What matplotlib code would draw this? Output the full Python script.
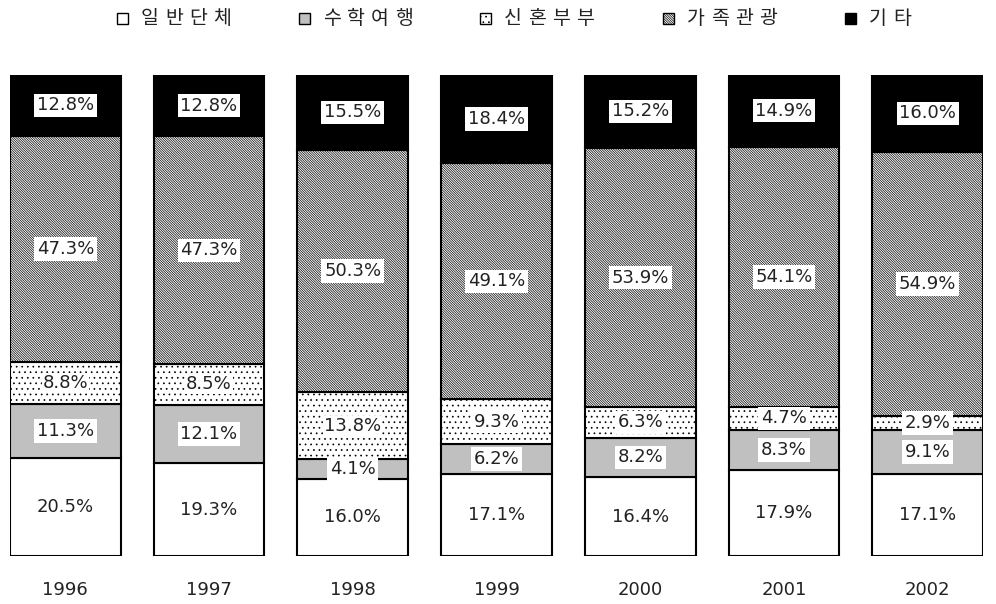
import matplotlib.pyplot as plt
from matplotlib.patches import Rectangle

plt.rcParams['font.family'] = ['DejaVu Sans', 'Noto Sans CJK KR']
plt.rcParams['hatch.linewidth'] = 0.5

years = ['1996', '1997', '1998', '1999', '2000', '2001', '2002']
categories = ['일반단체', '수학여행', '신혼부부', '가족관광', '기타']
general = [20.5, 19.3, 16.0, 17.1, 16.4, 17.9, 17.1]
school = [11.3, 12.1, 4.1, 6.2, 8.2, 8.3, 9.1]
honeymoon = [8.8, 8.5, 13.8, 9.3, 6.3, 4.7, 2.9]
family = [47.3, 47.3, 50.3, 49.1, 53.9, 54.1, 54.9]
other = [12.8, 12.8, 15.5, 18.4, 15.2, 14.9, 16.0]

series = [general, school, honeymoon, family, other]
colors = ['white', '#c0c0c0', 'white', 'white', 'black']
hatches = [None, None, '...', '\\' * 14, None]

fig = plt.figure(figsize=(9.96, 6.04), dpi=100)
ax = fig.add_axes([0.010, 0.0795, 0.977, 0.7965])

x = list(range(len(years)))
totals = [sum(s[i] for s in series) for i in x]
bottom = [0.0] * len(years)
for k, vals in enumerate(series):
    h = [v / t * 100 for v, t in zip(vals, totals)]
    ax.bar(x, h, 0.77, bottom=bottom, color=colors[k], hatch=hatches[k],
           edgecolor='black', linewidth=1.5)
    for i, v in enumerate(vals):
        y = bottom[i] + h[i] / 2
        box = dict(facecolor='white', edgecolor='none', pad=2)
        if k == 0:
            box = None
        elif k == 2 and i in (0, 1, 2):
            box = dict(facecolor='white', edgecolor='none', pad=0.5)
        ax.text(i, y, f'{v:.1f}%', ha='center', va='center', fontsize=13,
                color='#222222', bbox=box)
    bottom = [b + hh for b, hh in zip(bottom, h)]

ax.set_xlim(-0.385, 6.385)
ax.set_ylim(0, 100)
ax.axis('off')

for i, yr in enumerate(years):
    ax.text(i, -7.0, yr, ha='center', va='center', fontsize=13, color='#222222')

# legend across the top
leg_x = [117, 299, 480, 663, 845]
for k, name in enumerate(categories):
    fig.add_artist(Rectangle((leg_x[k] / 996, 0.960), 11 / 996, 11 / 604,
                             transform=fig.transFigure, facecolor=colors[k],
                             hatch=hatches[k], edgecolor='black', linewidth=1))
    for j, ch in enumerate(name):
        fig.text((leg_x[k] + 24 + 24 * j) / 996, 0.969, ch, ha='left', va='center',
                 fontsize=14, color='#222222', family='Noto Sans CJK KR')

fig.savefig('out.png', dpi=100, facecolor='white')
